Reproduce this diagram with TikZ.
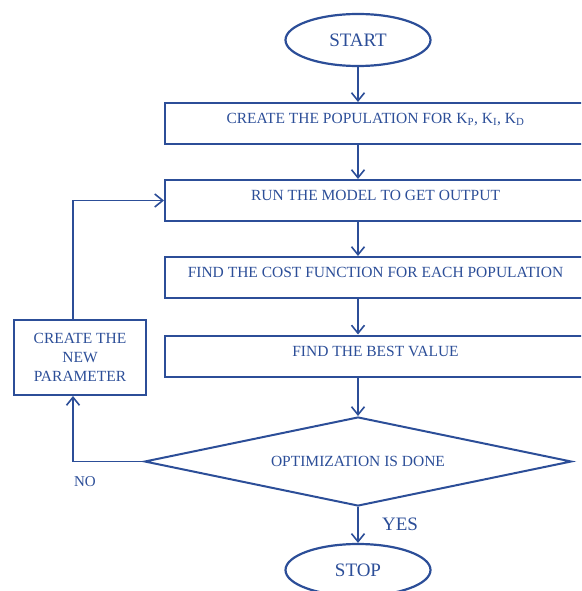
\documentclass[tikz,border=0pt]{standalone}
\usepackage{fontspec}
\setmainfont{Liberation Serif}
\usepackage{xcolor}
\usetikzlibrary{shapes.geometric,arrows.meta}
\definecolor{flowblue}{RGB}{44,78,152}

\begin{document}
\begin{tikzpicture}[x=1pt,y=-1pt]
\tikzstyle{every node}+=[inner sep=0pt, text=flowblue, font=\fontsize{15.5}{19}\selectfont]
\tikzstyle{term}=[draw=flowblue, line width=2.2pt, ellipse, minimum width=145pt, minimum height=52pt, font=\fontsize{19}{22}\selectfont]
\tikzstyle{stepbox}=[draw=flowblue, line width=2pt, rectangle, minimum width=421pt, minimum height=41pt, text height=9pt, text depth=9pt]
\tikzstyle{sidebox}=[draw=flowblue, line width=2pt, rectangle, minimum width=132pt, minimum height=75pt, align=center, font=\fontsize{15.5}{19}\selectfont]
\tikzstyle{decision}=[draw=flowblue, line width=2pt, diamond, aspect=4.8, minimum width=427pt, minimum height=89pt]
\tikzstyle{flow}=[draw=flowblue, line width=1.6pt, -{Straight Barb[length=8pt,width=13pt]}]
\clip (0,0) rectangle (581,591);
\useasboundingbox (0,0) rectangle (581,591);
% main column
\node[term] (start) at (358,40) {START};
\node[stepbox] (pop) at (375.5,123.5) {CREATE THE POPULATION FOR K\textsubscript{P}, K\textsubscript{I}, K\textsubscript{D}};
\node[stepbox] (run) at (375.5,200.5) {RUN THE MODEL TO GET OUTPUT};
\node[stepbox] (cost) at (375.5,277.5) {FIND THE COST FUNCTION FOR EACH POPULATION};
\node[stepbox] (best) at (375.5,356) {FIND THE BEST VALUE};
\node[decision] (done) at (358,461.5) {OPTIMIZATION IS DONE};
\node[term] (stop) at (358,570) {STOP};
% loop back
\node[sidebox] (newpar) at (80,357.5) {CREATE THE\\NEW\\PARAMETER};
\node[font=\fontsize{15}{18}\selectfont] (no) at (85,482) {NO};
\node[font=\fontsize{19}{22}\selectfont] (yes) at (400,524) {YES};
\coordinate (loop) at (73,0);
\draw[flow] (start.south) -- (start |- pop.north);
\draw[flow] (start |- pop.south) -- (start |- run.north);
\draw[flow] (start |- run.south) -- (start |- cost.north);
\draw[flow] (start |- cost.south) -- (start |- best.north);
\draw[flow] (start |- best.south) -- (done.north);
\draw[flow] (done.south) -- (stop.north);
\draw[flow] (done.west) -| (loop |- newpar.south);
\draw[flow] (loop |- newpar.north) |- (run.west);
\end{tikzpicture}
\end{document}
